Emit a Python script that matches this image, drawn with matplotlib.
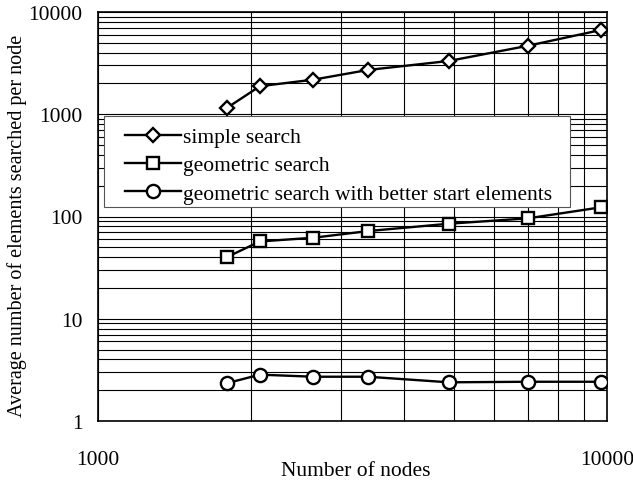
import matplotlib
matplotlib.use("Agg")
import matplotlib.pyplot as plt
from matplotlib.ticker import LogLocator, NullFormatter, FixedLocator
from matplotlib.patches import Rectangle
import numpy as np

plt.rcParams['font.family'] = ['Liberation Serif', 'DejaVu Serif']

# measured node counts and search effort
nodes = [1790, 2080, 2650, 3390, 4890, 7000, 9730]
simple = [1150, 1880, 2180, 2710, 3320, 4680, 6670]
geometric = [40, 57, 62, 72, 85, 96, 123]
geometric_start = [2.34, 2.84, 2.71, 2.71, 2.39, 2.42, 2.42]

labels = ["simple search", "geometric search",
          "geometric search with better start elements"]

fs = 15.5

fig = plt.figure(figsize=(6.33, 4.81), dpi=100)
ax = fig.add_axes([98/633, 1-422/481, 509/633, 409/481])

ax.set_xscale("log")
ax.set_yscale("log")
ax.set_xlim(1000, 10000)
ax.set_ylim(1, 10000)

ax.xaxis.set_major_locator(FixedLocator([1000, 10000]))
ax.xaxis.set_minor_locator(LogLocator(base=10, subs=np.arange(2, 10)))
ax.xaxis.set_minor_formatter(NullFormatter())
ax.yaxis.set_major_locator(FixedLocator([1, 10, 100, 1000, 10000]))
ax.yaxis.set_minor_locator(LogLocator(base=10, subs=np.arange(2, 10)))
ax.yaxis.set_minor_formatter(NullFormatter())
ax.xaxis.set_major_formatter(plt.FuncFormatter(lambda v, p: "%d" % v))
ax.yaxis.set_major_formatter(plt.FuncFormatter(lambda v, p: "%d" % v))

ax.grid(True, which="both", color="black", linewidth=0.8)
ax.tick_params(which="both", length=0)
ax.tick_params(axis="y", labelsize=fs, pad=11)
ax.tick_params(axis="x", labelsize=fs, pad=21)
for s in ax.spines.values():
    s.set_linewidth(1.2)

style = dict(color="black", linewidth=1.7, markerfacecolor="white",
             markeredgecolor="black", markeredgewidth=1.7, zorder=4)
ax.plot(nodes, simple, marker="D", markersize=7.5, label=labels[0], **style)
ax.plot(nodes, geometric, marker="s", markersize=9, label=labels[1], **style)
ax.plot(nodes, geometric_start, marker="o", markersize=9.5, label=labels[2], **style)

# white legend box drawn over the grid
ax.add_patch(Rectangle((6/509, 214/409), 466/509, 91/409, transform=ax.transAxes,
                       facecolor="white", edgecolor="#555555", linewidth=0.8,
                       zorder=3))
leg = ax.legend(loc="upper left", bbox_to_anchor=(27/509, 294/409),
                fontsize=fs, frameon=False, handlelength=2.6,
                handletextpad=0.1, labelspacing=0.38, borderpad=0,
                borderaxespad=0)
leg.set_zorder(5)

ax.set_ylabel("Average number of elements searched per node", fontsize=14.5)
ax.yaxis.set_label_coords(-0.1395, 0.48)
ax.set_xlabel("Number of nodes", fontsize=fs)
ax.xaxis.set_label_coords(0.507, -0.098)

fig.savefig("out.png", dpi=100)
